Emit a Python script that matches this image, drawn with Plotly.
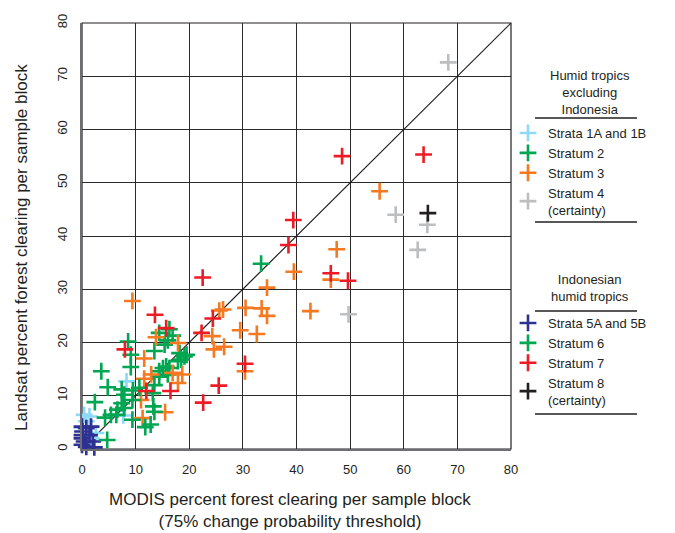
import plotly.graph_objects as go

# ---------------- data (MODIS x, Landsat y) ----------------
s1_x = [0.4, 1.4, 0.0, 1.7, 2.6, 8.3, 7.7, 0.8]
s1_y = [6.4, 6.1, 4.0, 2.0, 3.0, 12.7, 6.3, 5.2]

s2_x = [33.4, 16.3, 14.4, 16.9, 16.0, 15.4, 8.6, 9.1, 13.5, 18.2, 19.1, 18.5, 17.9, 19.5,
        9.1, 15.7, 15.1, 16.3, 14.4, 14.4, 16.0]
s2_y = [34.8, 22.5, 21.8, 21.3, 20.4, 19.6, 20.2, 17.7, 18.4, 18.0, 17.4, 16.8, 16.5, 17.7,
        15.4, 15.5, 15.2, 15.2, 14.6, 13.6, 14.0]

s3_x = [55.5, 47.5, 46.4, 42.6, 39.5, 34.5, 26.3, 25.6, 30.5, 33.5, 34.5, 24.3, 29.5, 32.6,
        24.6, 26.5, 30.4, 9.4, 13.8, 17.9, 11.6, 16.9, 18.7, 11.6, 17.9, 11.0, 15.5, 11.3, 12.9]
s3_y = [48.4, 37.5, 31.8, 25.9, 33.3, 30.3, 26.2, 26.0, 26.5, 26.4, 25.0, 21.2, 22.3, 21.6,
        18.7, 19.2, 14.6, 27.8, 21.0, 19.9, 17.0, 14.3, 14.0, 13.2, 12.4, 9.2, 6.9, 5.8, 14.0]

s4_x = [68.3, 58.5, 64.4, 62.6, 49.7]
s4_y = [72.6, 44.0, 42.1, 37.4, 25.3]

s5_x = [0.0, 0.1, 0.0, 0.8, 1.4, 0.4, 2.0, 0.0, 0.8, 1.7, 0.0, 2.3]
s5_y = [4.2, 3.3, 2.0, 3.9, 2.6, 1.4, 1.4, 0.8, 0.4, 4.2, 2.6, 0.3]

s6_x = [3.6, 4.8, 7.4, 9.5, 10.7, 13.5, 13.2, 7.9, 2.4, 7.4, 9.4, 7.9, 13.3, 13.5,
        4.3, 5.4, 6.4, 9.4, 11.8, 12.8, 4.7, 6.6]
s6_y = [14.6, 11.6, 11.2, 11.0, 11.5, 12.0, 10.5, 10.2, 8.8, 8.6, 9.2, 7.7, 8.0, 7.0,
        5.9, 6.4, 6.4, 5.5, 4.1, 4.6, 1.7, 7.4]

s7_x = [48.5, 63.7, 39.4, 38.5, 46.4, 49.6, 22.5, 24.4, 22.3, 30.4, 25.5, 22.6, 13.6,
        15.7, 8.0, 12.0, 16.5]
s7_y = [55.0, 55.3, 43.0, 38.3, 33.0, 31.6, 32.2, 24.5, 21.8, 16.0, 11.9, 8.7, 25.2,
        22.7, 18.7, 10.9, 10.9]

s8_x = [64.5]
s8_y = [44.3]

diag = [0, 80]
ticks = [0, 10, 20, 30, 40, 50, 60, 70, 80]

# ---------------- styling ----------------
FONT = "Arial, Liberation Sans, sans-serif"
TXT = "#231f20"
OFF = 8  # page body margin in the browser
W, H = 675 - OFF, 533 - OFF
L, R, T, B = 82 - OFF, 511 - OFF, 23 - OFF, 449 - OFF


def px2paper(px, py):
    # coordinates given in reference-window pixels
    px -= OFF
    py -= OFF
    return (px - L) / (R - L), (B - py) / (B - T)


fig = go.Figure()

fig.add_trace(go.Scatter(x=diag, y=diag, mode="lines",
                         line=dict(color="#231f20", width=1.2),
                         showlegend=False, hoverinfo="skip"))


def add(xs, ys, name, color, legend):
    fig.add_trace(go.Scatter(
        x=xs, y=ys, mode="markers", name=name, legend=legend,
        cliponaxis=False,
        marker=dict(symbol="cross-thin", size=12, color=color,
                    line=dict(color=color, width=2.6))))


add(s1_x, s1_y, "Strata 1A and 1B", "#8ed8f8", "legend")
add(s2_x, s2_y, "Stratum 2", "#00a651", "legend")
add(s3_x, s3_y, "Stratum 3", "#f47920", "legend")
add(s4_x, s4_y, "Stratum 4<br>(certainty)", "#bcbec0", "legend")
add(s5_x, s5_y, "Strata 5A and 5B", "#2e3192", "legend2")
add(s6_x, s6_y, "Stratum 6", "#00a651", "legend2")
add(s7_x, s7_y, "Stratum 7", "#ed1c24", "legend2")
add(s8_x, s8_y, "Stratum 8<br>(certainty)", "#231f20", "legend2")

axis_common = dict(range=[0, 80], tickvals=ticks, ticktext=[str(t) for t in ticks],
                   showgrid=True, gridcolor="#2b2b2b", gridwidth=1.3,
                   zeroline=False, showline=True, linecolor="#6d6e71", linewidth=2.2,
                   ticks="", tickfont=dict(family=FONT, size=13, color=TXT),
                   fixedrange=True, automargin=False)

fig.update_xaxes(**axis_common, ticklabelstandoff=7)
fig.update_yaxes(**axis_common, tickangle=-90, ticklabelstandoff=8)

lx1, ly1 = px2paper(508, 118)
lx2, ly2 = px2paper(508, 308)
leg_common = dict(font=dict(family=FONT, size=13, color=TXT), bgcolor="rgba(0,0,0,0)",
                  xanchor="left", yanchor="top", itemsizing="trace", tracegroupgap=0)
fig.update_layout(
    legend=dict(**leg_common, x=lx1, y=ly1),
    legend2=dict(**leg_common, x=lx2, y=ly2),
)

shapes = [dict(type="rect", xref="paper", yref="paper", x0=0, y0=0, x1=1, y1=1,
               line=dict(color="#231f20", width=1.2), layer="below")]
for py in [118, 222, 311, 414]:
    xa, ya = px2paper(535, py)
    xb, _ = px2paper(637, py)
    shapes.append(dict(type="line", xref="paper", yref="paper", x0=xa, x1=xb, y0=ya, y1=ya,
                       line=dict(color=TXT, width=1.3)))

ax, ay = px2paper(22, 248)
bx, by = px2paper(290, 510)
gx1, gy1 = px2paper(590, 92)
gx2, gy2 = px2paper(590, 288)
annotations = [
    dict(text="Landsat percent forest clearing per sample block", xref="paper", yref="paper",
         x=ax, y=ay, textangle=-90, showarrow=False, xanchor="center", yanchor="middle",
         font=dict(family=FONT, size=17, color=TXT)),
    dict(text="MODIS percent forest clearing per sample block<br>(75% change probability threshold)",
         xref="paper", yref="paper", x=bx, y=by, showarrow=False, xanchor="center",
         yanchor="middle", font=dict(family=FONT, size=17, color=TXT)),
    dict(text="Humid tropics<br>excluding<br>Indonesia", xref="paper", yref="paper",
         x=gx1, y=gy1, showarrow=False, xanchor="center", yanchor="middle",
         font=dict(family=FONT, size=13, color=TXT)),
    dict(text="Indonesian<br>humid tropics", xref="paper", yref="paper",
         x=gx2, y=gy2, showarrow=False, xanchor="center", yanchor="middle",
         font=dict(family=FONT, size=13, color=TXT)),
]

fig.update_layout(
    width=W, height=H, autosize=False,
    margin=dict(l=L, r=W - R, t=T, b=H - B, pad=0, autoexpand=False),
    paper_bgcolor="white", plot_bgcolor="white",
    shapes=shapes, annotations=annotations,
    font=dict(family=FONT, color=TXT),
)

fig.write_html("out.html")
